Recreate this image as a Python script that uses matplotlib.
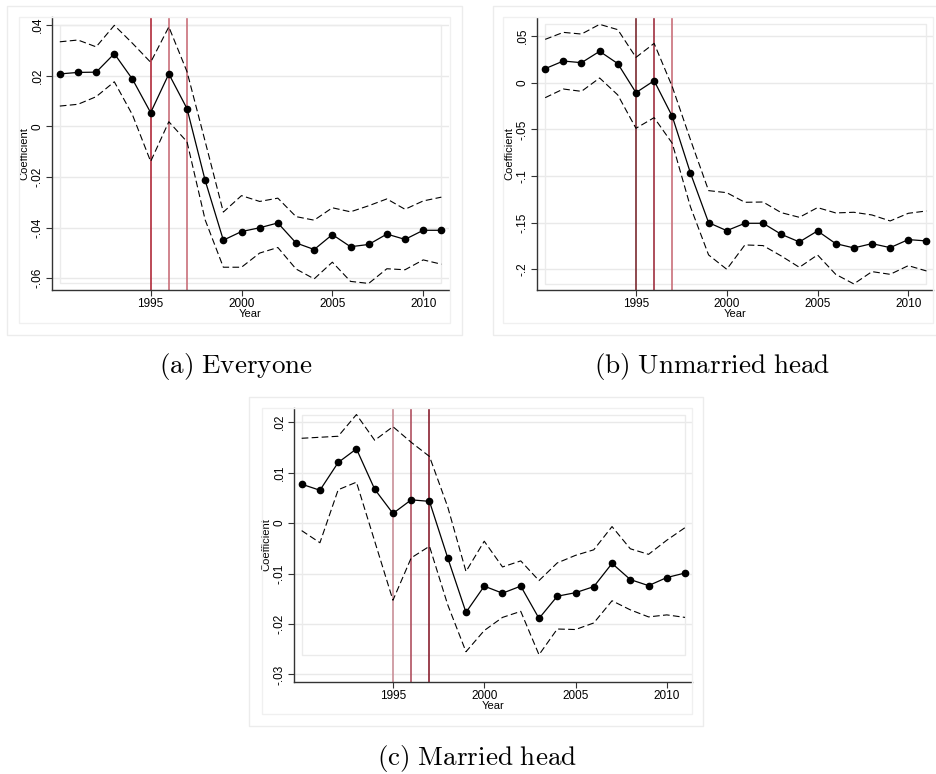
import numpy as np
import matplotlib
matplotlib.use('Agg')
import matplotlib.pyplot as plt
from matplotlib.patches import Rectangle

plt.rcParams['font.family'] = ['Liberation Sans', 'DejaVu Sans']
plt.rcParams['mathtext.fontset'] = 'cm'

W, H = 936, 774

years = list(range(1990, 2012))

# (a) Everyone
coef_a = [0.0207, 0.0213, 0.0214, 0.0287, 0.0186, 0.0054, 0.0207, 0.0070, -0.0214, -0.0450, -0.0416,
          -0.0401, -0.0382, -0.0461, -0.0487, -0.0428, -0.0476, -0.0467, -0.0426, -0.0447, -0.0411, -0.0411]
hi_a = [0.0334, 0.0341, 0.0314, 0.0399, 0.0328, 0.0253, 0.0393, 0.0216, -0.0060, -0.0339, -0.0274,
        -0.0297, -0.0284, -0.0357, -0.0371, -0.0322, -0.0338, -0.0314, -0.0287, -0.0328, -0.0295, -0.0280]
lo_a = [0.0080, 0.0087, 0.0117, 0.0176, 0.0045, -0.0139, 0.0018, -0.0061, -0.0370, -0.0557, -0.0557,
        -0.0501, -0.0479, -0.0564, -0.0603, -0.0537, -0.0613, -0.0621, -0.0563, -0.0567, -0.0528, -0.0545]
yticks_a = [0.04, 0.02, 0.0, -0.02, -0.04, -0.06]
ylabels_a = ['.04', '.02', '0', '-.02', '-.04', '-.06']

# (b) Unmarried head
coef_b = [0.0150, 0.0232, 0.0214, 0.0336, 0.0204, -0.0107, 0.0021, -0.0361, -0.0968, -0.1500, -0.1586,
          -0.1507, -0.1507, -0.1625, -0.1707, -0.1589, -0.1725, -0.1771, -0.1725, -0.1768, -0.1682, -0.1696]
hi_b = [0.0464, 0.0539, 0.0521, 0.0625, 0.0568, 0.0271, 0.0421, -0.0043, -0.0610, -0.1157, -0.1179,
        -0.1282, -0.1279, -0.1393, -0.1443, -0.1339, -0.1396, -0.1389, -0.1418, -0.1482, -0.1400, -0.1375]
lo_b = [-0.0161, -0.0068, -0.0093, 0.0050, -0.0132, -0.0489, -0.0375, -0.0650, -0.1330, -0.1846, -0.2000,
        -0.1739, -0.1746, -0.1857, -0.1979, -0.1846, -0.2054, -0.2157, -0.2025, -0.2054, -0.1961, -0.2018]
yticks_b = [0.05, 0.0, -0.05, -0.1, -0.15, -0.2]
ylabels_b = ['.05', '0', '-.05', '-.1', '-.15', '-.2']

# (c) Married head
coef_c = [0.0077, 0.0065, 0.0120, 0.0147, 0.0067, 0.0019, 0.0046, 0.0043, -0.0069, -0.0177, -0.0125,
          -0.0139, -0.0125, -0.0189, -0.0145, -0.0138, -0.0126, -0.0080, -0.0112, -0.0124, -0.0108, -0.0099]
hi_c = [0.0168, 0.0170, 0.0172, 0.0215, 0.0164, 0.0191, 0.0160, 0.0132, 0.0032, -0.0096, -0.0036,
        -0.0087, -0.0075, -0.0114, -0.0079, -0.0064, -0.0053, -0.0007, -0.0051, -0.0062, -0.0034, -0.0009]
lo_c = [-0.0015, -0.0039, 0.0066, 0.0081, -0.0036, -0.0153, -0.0069, -0.0046, -0.0162, -0.0255, -0.0213,
        -0.0187, -0.0175, -0.0261, -0.0210, -0.0211, -0.0198, -0.0154, -0.0172, -0.0186, -0.0182, -0.0187]
yticks_c = [0.02, 0.01, 0.0, -0.01, -0.02, -0.03]
ylabels_c = ['.02', '.01', '0', '-.01', '-.02', '-.03']

xticks = [1995, 2000, 2005, 2010]
reform_years = [1995, 1996, 1997]
captions = ['(a) Everyone', '(b) Unmarried head', '(c) Married head']

fig = plt.figure(figsize=(W / 100, H / 100), dpi=100)


def px_box(left, top, right, bottom):
    return [left / W, 1 - bottom / H, (right - left) / W, (bottom - top) / H]


def frame(box, color):
    fl, ft, fr, fb = box
    fig.patches.append(Rectangle((fl / W, 1 - fb / H), (fr - fl) / W, (fb - ft) / H,
                                 transform=fig.transFigure, fill=False,
                                 edgecolor=color, linewidth=1.0, zorder=0))


def panel(ax_px, outer_px, inner_px, xlim, ylim, coef, hi, lo, yt, ytl, vcolors):
    frame(outer_px, '#ececec')
    frame(inner_px, '#f0f0f0')
    ax = fig.add_axes(px_box(*ax_px))
    ax.set_facecolor('none')
    ax.set_xlim(*xlim)
    ax.set_ylim(*ylim)
    for t in yt:
        ax.axhline(t, color='#e9e9e9', linewidth=1.0, zorder=0)
    lo_arr, hi_arr = np.array(lo), np.array(hi)
    ax.add_patch(Rectangle((years[0], lo_arr.min()), years[-1] - years[0],
                           hi_arr.max() - lo_arr.min(), fill=False,
                           edgecolor='#ebebeb', linewidth=1.0, zorder=0))
    for yr, c in zip(reform_years, vcolors):
        ax.axvline(yr, color=c, linewidth=1.2, zorder=1)
    ax.plot(years, hi, color='black', linewidth=0.8, dashes=(6, 3), zorder=2)
    ax.plot(years, lo, color='black', linewidth=0.8, dashes=(6, 3), zorder=2)
    ax.plot(years, coef, color='black', linewidth=0.9, marker='o', markersize=4.5, zorder=3)
    ax.set_xticks(xticks)
    ax.set_yticks(yt)
    ax.set_yticklabels(ytl, rotation=90, va='center')
    ax.tick_params(axis='both', labelsize=8.5, length=4, width=0.8, color='#333333', pad=2)
    ax.set_xlabel('Year', fontsize=8, labelpad=-1)
    ax.set_ylabel('Coefficient', fontsize=8, labelpad=2)
    for s in ['top', 'right']:
        ax.spines[s].set_visible(False)
    for s in ['left', 'bottom']:
        ax.spines[s].set_color('#333333')
        ax.spines[s].set_linewidth(1.0)
    return ax


panel((52, 17, 449, 290), (7, 6, 462, 335), (19, 17, 450, 323),
      (1989.57, 2011.42), (-0.0647, 0.0432),
      coef_a, hi_a, lo_a, yticks_a, ylabels_a, ['#b02a3a', '#c9707a', '#c9707a'])
panel((537, 18, 933, 290), (493, 6, 940, 335), (503, 17, 933, 323),
      (1989.55, 2011.36), (-0.2222, 0.0693),
      coef_b, hi_b, lo_b, yticks_b, ylabels_b, ['#7a2a30', '#a03040', '#c9707a'])
panel((294, 408, 692, 682), (249, 397, 703, 726), (262, 408, 692, 714),
      (1989.58, 2011.38), (-0.0315, 0.0228),
      coef_c, hi_c, lo_c, yticks_c, ylabels_c, ['#c99098', '#b05060', '#8a2030'])

caption_pos = [(236, 367), (712, 367), (477, 758)]
for cap, (cx, cy) in zip(captions, caption_pos):
    fig.text(cx / W, 1 - cy / H, r'$\mathrm{' + cap.replace(' ', r'\ ') + '}$',
             ha='center', va='center', fontsize=19.5)

fig.savefig('out.png', dpi=100)
